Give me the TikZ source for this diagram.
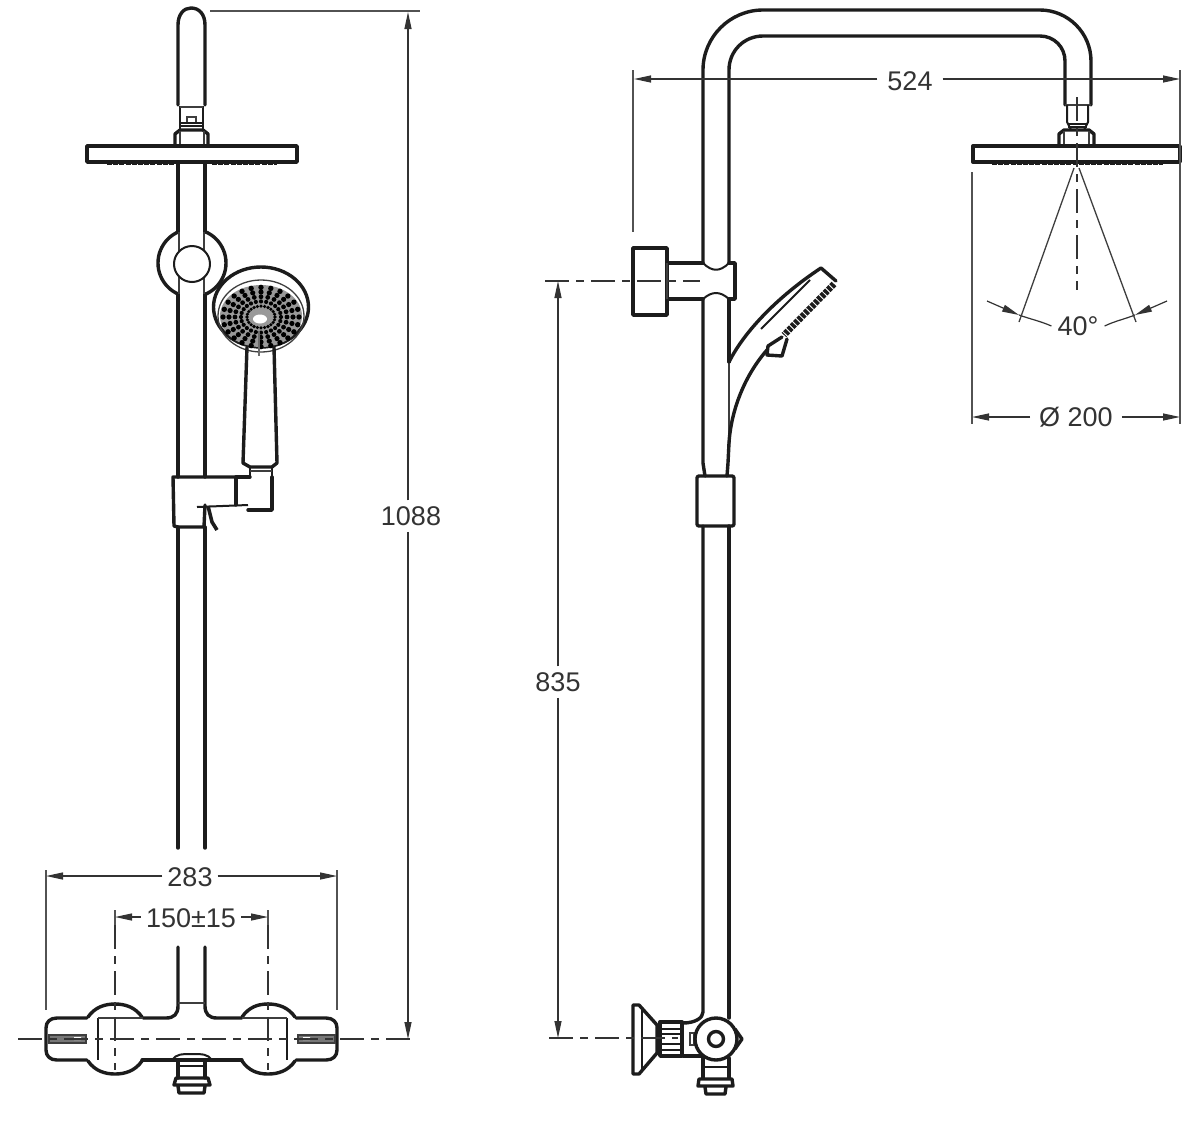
\documentclass[tikz,border=0pt]{standalone}
\usepackage{fontspec}
\setmainfont{Liberation Sans}
\usetikzlibrary{arrows.meta}
\definecolor{inkc}{HTML}{1C1C1C}
\definecolor{dimc}{HTML}{333333}
\begin{document}
\begin{tikzpicture}[x=1pt,y=-1pt]
\tikzset{body/.style = {draw=inkc,line width=3.4pt,line join=round,line cap=round}}
\tikzset{mid/.style = {draw=inkc,line width=2pt,line join=round}}
\tikzset{fine/.style = {draw=inkc!85,line width=1.3pt}}
\tikzset{rough/.style = {draw=inkc,line width=3.6pt,dash pattern=on 5pt off 1.2pt}}
\tikzset{dimline/.style = {draw=dimc,line width=1.2pt,> = {Stealth[length=17pt,width=7pt,inset=0pt]}}}
\tikzset{extline/.style = {draw=dimc!85,line width=1.5pt}}
\tikzset{centre/.style = {draw=dimc,line width=1.5pt,dash pattern=on 24pt off 7pt on 8pt off 7pt}}
\tikzset{dimlabel/.style = {text=dimc,font=\fontsize{27}{27}\selectfont,inner ysep=1pt,inner xsep=5pt}}
\useasboundingbox[fill=white] (0,0) rectangle (1200,1128);

% left view, riser and head
\draw[body] (178,105) -- (178,25) .. controls (178,14) and (184,8) .. (191,8) .. controls (199,8) and (205,14) .. (205,25) -- (205,105);
\draw[mid] (180,106) -- (180,130) (203,106) -- (203,130);
\draw[fine] (180,107) -- (203,107) (187,122) -- (187,117) -- (196,117) -- (196,122);
\draw[mid] (180,123) -- (203,123) (180,126) -- (203,126);
\draw[body] (175,146) -- (175,134) -- (180,130) -- (203,130) -- (208,134) -- (208,146);
\draw[fine] (180,131) -- (180,145) -- (204,145) -- (204,131);
\draw[body] (87,146) rectangle (297,162);
\draw[rough] (107,163) -- (175,163) (212,163) -- (277,163);
\draw[body] (178,163) -- (178,232) (205,163) -- (205,232) (178,294) -- (178,477) (205,294) -- (205,477);
% left view, clamp
\begin{scope}
\clip (140,220) rectangle (178,310) (205,220) rectangle (240,310);
\draw[body] (192,263) circle (34);
\end{scope}
\draw[fine] (179,232) -- (179,294) (204,232) -- (204,294);
\draw[mid,fill=white] (192,264) circle (18);
% left view, hand shower
\draw[body] (261,307) ellipse (47.5 and 40);
\draw[fine] (261,316) ellipse (43 and 36);
\fill[inkc!45] (261,316) ellipse (41 and 31);
\foreach \i in {0,15,...,345}
  \foreach \r/\s in {14/1.8,20/2.1,26/2.4,32/2.6,38/2.7}
    \fill[black] ({261+\r*cos(\i)},{317+0.78*\r*sin(\i)}) circle (\s);
\fill[white] (260,319) ellipse (7 and 4.5);
\draw[line width=2.6pt,draw=inkc!65] (259,331) -- (259,356);
\draw[body] (247,347) -- (243,463) -- (250,467) -- (272,467) -- (277,463) -- (274,347);
\draw[mid] (250,467) -- (250,476) (272,467) -- (272,477);
\draw[fine] (250,471) -- (272,471);
% left view, slider
\draw[body] (236,477) -- (173,477) -- (174,526) -- (178,527) -- (204,527) -- (205,505);
\draw[body] (250,477) -- (236,477) -- (236,505);
\draw[mid] (197,507) -- (248,505);
\draw[body] (248,510) -- (272,510) -- (272,477);
\draw[line width=3.6pt,draw=inkc] (208,506) -- (212,522) -- (217,530);
\draw[body] (178,527) -- (178,848) (205,527) -- (205,848);
% left view, mixer
\draw[body] (178,947) -- (178,1006) .. controls (178,1014) and (174,1018) .. (166,1018) -- (143,1018);
\draw[body] (205,947) -- (205,1006) .. controls (205,1014) and (209,1018) .. (217,1018) -- (242,1018);
\draw[fine] (178,1003) -- (205,1003);
\draw[body] (87,1018) -- (57,1018) .. controls (50,1018) and (46,1022) .. (46,1028) -- (46,1050) .. controls (46,1056) and (50,1060) .. (57,1060) -- (87,1060);
\draw[body] (296,1018) -- (326,1018) .. controls (333,1018) and (337,1022) .. (337,1028) -- (337,1050) .. controls (337,1056) and (333,1060) .. (326,1060) -- (296,1060);
\draw[body] (88,1017) .. controls (95,1007) and (105,1004) .. (115,1004) .. controls (125,1004) and (135,1007) .. (142,1017);
\draw[body] (242,1017) .. controls (249,1007) and (258,1004) .. (268,1004) .. controls (278,1004) and (288,1007) .. (295,1017);
\draw[body] (88,1061) .. controls (95,1071) and (105,1074) .. (115,1074) .. controls (125,1074) and (135,1071) .. (142,1061);
\draw[body] (242,1061) .. controls (249,1071) and (258,1074) .. (268,1074) .. controls (278,1074) and (288,1071) .. (295,1061);
\draw[mid] (98,1018) -- (98,1060) (287,1018) -- (287,1060);
\draw[fine] (98,1018) -- (143,1018) (242,1018) -- (287,1018);
\draw[body] (142,1060) -- (242,1060);
\draw[fine,fill=inkc!60] (49,1035) rectangle (86,1043) (298,1035) rectangle (335,1043);
\fill[white] (74,1037) rectangle (81,1040) (303,1037) rectangle (310,1040);
\draw[mid] (172,1060) .. controls (176,1054) and (182,1054) .. (192,1054) .. controls (202,1054) and (208,1054) .. (212,1060);
\draw[body] (178,1062) -- (178,1078) (205,1062) -- (205,1078);
\draw[mid] (178,1066) -- (205,1066);
\draw[body] (176,1078) -- (208,1078) -- (210,1085) -- (174,1085) -- cycle;
\draw[body] (178,1086) -- (179,1093) -- (204,1093) -- (205,1086);

% right view, arm and riser
\draw[body] (1091,105) -- (1091,61) .. controls (1091,33) and (1068,10) .. (1040,10) -- (763,10) .. controls (730,10) and (703,37) .. (703,70) -- (703,263);
\draw[body] (1065,105) -- (1065,61) .. controls (1065,47) and (1054,36) .. (1040,36) -- (763,36) .. controls (744,36) and (729,51) .. (729,70) -- (729,263);
\draw[fine] (1065,105) -- (1091,105);
\draw[mid] (1067,105) -- (1067,122) -- (1071,130) (1088,105) -- (1088,122) -- (1084,130);
\draw[mid] (1068,124) -- (1087,124) (1068,127) -- (1087,127);
\draw[body] (1059,146) -- (1059,134) -- (1064,130) -- (1089,130) -- (1094,134) -- (1094,146);
\draw[fine] (1064,131) -- (1064,145) -- (1089,145) -- (1089,131);
\draw[body] (973,146) rectangle (1180,162);
\draw[rough] (992,163) -- (1163,163);
% right view, wall bracket
\draw[body] (633,248) rectangle (667,315);
\draw[body] (667,263) -- (703,263) (667,299) -- (703,299);
\draw[mid] (703,263) .. controls (712,272) and (720,272) .. (729,263);
\draw[mid] (703,299) .. controls (712,291) and (720,291) .. (729,299);
\draw[body] (729,263) -- (735,263) -- (735,299) -- (729,299);
\draw[fine] (667,263) -- (667,299);
% right view, hand shower
\draw[body] (703,299) -- (703,463) -- (705,476);
\draw[body] (729,299) -- (729,362);
\draw[fine] (729,362) -- (729,443);
\draw[body] (729,362) .. controls (745,330) and (780,295) .. (821,268) -- (836,281);
\draw[line width=6.5pt,draw=inkc,dash pattern=on 3.5pt off 1.2pt] (834,284) -- (784,335);
\draw[mid] (761,329) -- (810,280);
\draw[body] (782,337) -- (768,346) -- (767,355) -- (782,356) -- (787,339);
\draw[body] (729,443) .. controls (731,410) and (745,375) .. (767,350);
\draw[body] (729,443) -- (728,463) -- (727,476);
% right view, slider and mixer
\draw[body,rounded corners=2pt] (697,476) rectangle (734,526);
\draw[body] (703,526) -- (703,1012) .. controls (703,1018) and (695,1023) .. (683,1023);
\draw[body] (729,526) -- (729,1018);
\draw[body] (660,1022) rectangle (682,1056);
\draw[mid] (660,1029) -- (682,1029) (660,1034) -- (682,1034) (660,1044) -- (682,1044) (660,1050) -- (682,1050);
\draw[body] (683,1056) -- (703,1056);
\draw[fine] (690,1033) rectangle (694,1045);
\draw[body,fill=white] (716,1039) circle (21);
\draw[body] (735,1029) -- (742,1039) -- (735,1049);
\draw[body] (716,1039) circle (7.5);
\draw[body] (633,1005) -- (639,1005) -- (657,1025) -- (657,1053) -- (639,1074) -- (633,1074) -- cycle;
\draw[mid] (642,1008) -- (642,1071);
\draw[mid] (657,1025) -- (660,1025) (657,1053) -- (660,1053);
\draw[body] (703,1058) -- (703,1078) (729,1058) -- (729,1078);
\draw[mid] (703,1067) -- (729,1067);
\draw[body] (699,1079) -- (732,1079) -- (733,1086) -- (698,1086) -- cycle;
\draw[body] (705,1087) -- (706,1094) -- (725,1094) -- (726,1087);

% dimensions, labels
\node[dimlabel,inner ysep=6pt] (l1088) at (411,516) {1088};
\node[dimlabel] (l283) at (190,877) {283};
\node[dimlabel] (l150) at (191,918) {150±15};
\node[dimlabel,inner xsep=10pt] (l524) at (910,81) {524};
\node[dimlabel,inner ysep=6pt] (l835) at (558,682) {835};
\node[dimlabel,inner xsep=9pt] (l200) at (1076,417) {Ø 200};
\node[dimlabel,inner xsep=6pt] (l40) at (1078,326) {40°};
% dimensions, end points
\coordinate (t1088) at (408,12);
\coordinate (b1088) at (408,1039);
\coordinate (w283) at (46,876);
\coordinate (e283) at (337,876);
\coordinate (w150) at (115,917);
\coordinate (e150) at (268,917);
\coordinate (w524) at (634,79);
\coordinate (e524) at (1180,79);
\coordinate (t835) at (558,281);
\coordinate (b835) at (558,1038);
\coordinate (w200) at (972,417);
\coordinate (e200) at (1180,417);
\coordinate (wa40) at (987,301);
\coordinate (wb40) at (1019,315);
\coordinate (ea40) at (1167,301);
\coordinate (eb40) at (1135,315);
% dimensions, arrows
\draw[dimline,->] (t1088 |- l1088.north) -- (t1088);
\draw[dimline,->] (b1088 |- l1088.south) -- (b1088);
\draw[dimline,->] (l283.west |- w283) -- (w283);
\draw[dimline,->] (l283.east |- e283) -- (e283);
\draw[dimline,->] (l150.west |- w150) -- (w150);
\draw[dimline,->] (l150.east |- e150) -- (e150);
\draw[dimline,->] (l524.west |- w524) -- (w524);
\draw[dimline,->] (l524.east |- e524) -- (e524);
\draw[dimline,->] (l835.north) -- (t835);
\draw[dimline,->] (l835.south) -- (b835);
\draw[dimline,->] (l200.west) -- (w200);
\draw[dimline,->] (l200.east) -- (e200);
\draw[dimline,->] (wa40) -- (wb40);
\draw[dimline,->] (ea40) -- (eb40);
\draw[dimline] (wb40) .. controls (1030,319) and (1040,321) .. (l40.west);
\draw[dimline] (eb40) .. controls (1125,319) and (1115,321) .. (l40.east);
% extension lines
\draw[extline] (210,11) -- (420,11);
\draw[extline] (46,870) -- (46,1010) (337,870) -- (337,1010);
\draw[extline] (633,70) -- (633,232);
\draw[extline] (1180,70) -- (1180,424);
\draw[extline] (972,172) -- (972,424);
\draw[extline] (115,910) -- (115,925) (268,910) -- (268,925);
% spray lines
\draw[fine] (1074,168) -- (1019,322) (1079,168) -- (1136,322);
% centre lines
\draw[centre] (18,1039) -- (415,1039);
\draw[centre] (115,925) -- (115,1070);
\draw[centre] (268,925) -- (268,1070);
\draw[centre] (545,281) -- (700,281);
\draw[centre] (549,1038) -- (678,1038);
\draw[centre] (1077,97) -- (1077,290);
\end{tikzpicture}
\end{document}
